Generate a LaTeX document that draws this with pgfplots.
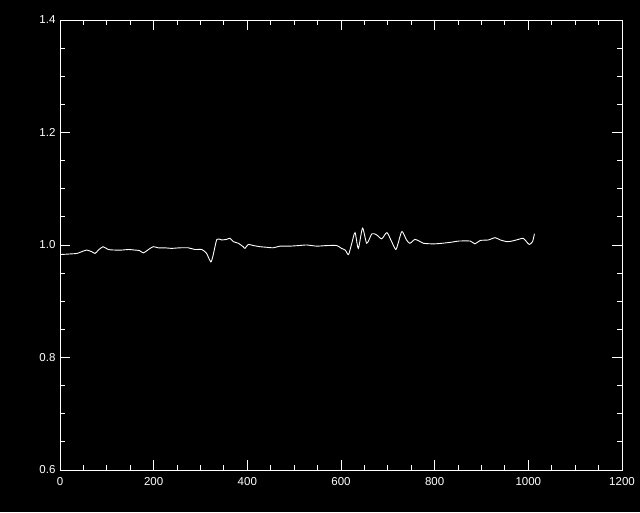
\documentclass[border=0pt]{standalone}
\usepackage{pgfplots}
\pgfplotsset{compat=1.18}
\usepackage{fontspec}
\setmainfont{Liberation Sans}
\begin{document}
\begin{tikzpicture}[x=1pt,y=1pt]
\fill[black] (0,0) rectangle (640,512);
\begin{axis}[
  at={(60pt,42pt)}, anchor=south west,
  scale only axis, width=562pt, height=450pt,
  xmin=0, xmax=1200, ymin=0.6, ymax=1.4,
  xtick={0,200,...,1200}, ytick={0.6,0.8,1.0,1.2,1.4},
  minor x tick num=3, minor y tick num=3,
  xticklabel style={/pgf/number format/1000 sep={}, yshift=-4pt},
  yticklabel style={/pgf/number format/fixed, /pgf/number format/fixed zerofill, /pgf/number format/precision=1, xshift=-1pt},
  /pgf/number format/assume math mode=true,
  tick align=inside,
  major tick length=10pt, minor tick length=5pt,
  axis line style={white, line width=0.9pt},
  every tick/.style={white, line width=0.9pt},
  tick label style={white, font=\fontsize{11.5}{13}\selectfont},
  xtick pos=both, ytick pos=both,
  xticklabel pos=lower, yticklabel pos=left,
  clip=true,
]
\addplot[white, line width=0.9pt, smooth, tension=0.4] coordinates {
(0,0.983) (20,0.984) (36,0.985) (46,0.988) (57,0.991) (68,0.988) (75,0.985)
(82,0.991) (92,0.997) (103,0.992) (118,0.991) (132,0.991) (146,0.992) (160,0.991)
(170,0.990) (178,0.986) (189,0.992) (199,0.997) (210,0.995) (224,0.995) (238,0.994)
(256,0.995) (274,0.995) (288,0.992) (303,0.992) (313,0.985) (322,0.970)
(327,0.982) (335,1.010) (345,1.009) (356,1.010) (363,1.012) (370,1.006)
(381,1.003) (391,0.997) (395,0.994) (402,1.001) (413,0.999) (427,0.997)
(441,0.996) (455,0.995) (470,0.998) (491,0.998) (510,0.999) (527,1.000)
(548,0.998) (570,0.999) (591,0.999) (601,0.994) (609,0.991) (616,0.983)
(623,1.003) (630,1.022) (637,0.994) (646,1.030) (655,1.003) (666,1.020)
(676,1.018) (687,1.011) (698,1.022) (708,1.006) (717,0.992) (722,1.003)
(730,1.024) (740,1.009) (747,1.003) (758,1.010) (769,1.006) (776,1.003)
(797,1.002) (815,1.003) (836,1.005) (851,1.007) (876,1.007) (886,1.002)
(897,1.008) (915,1.009) (929,1.013) (940,1.009) (954,1.006) (965,1.007)
(979,1.010) (989,1.012) (996,1.006) (1002,1.001) (1009,1.006) (1013,1.020)
};
\end{axis}
\end{tikzpicture}
\end{document}
